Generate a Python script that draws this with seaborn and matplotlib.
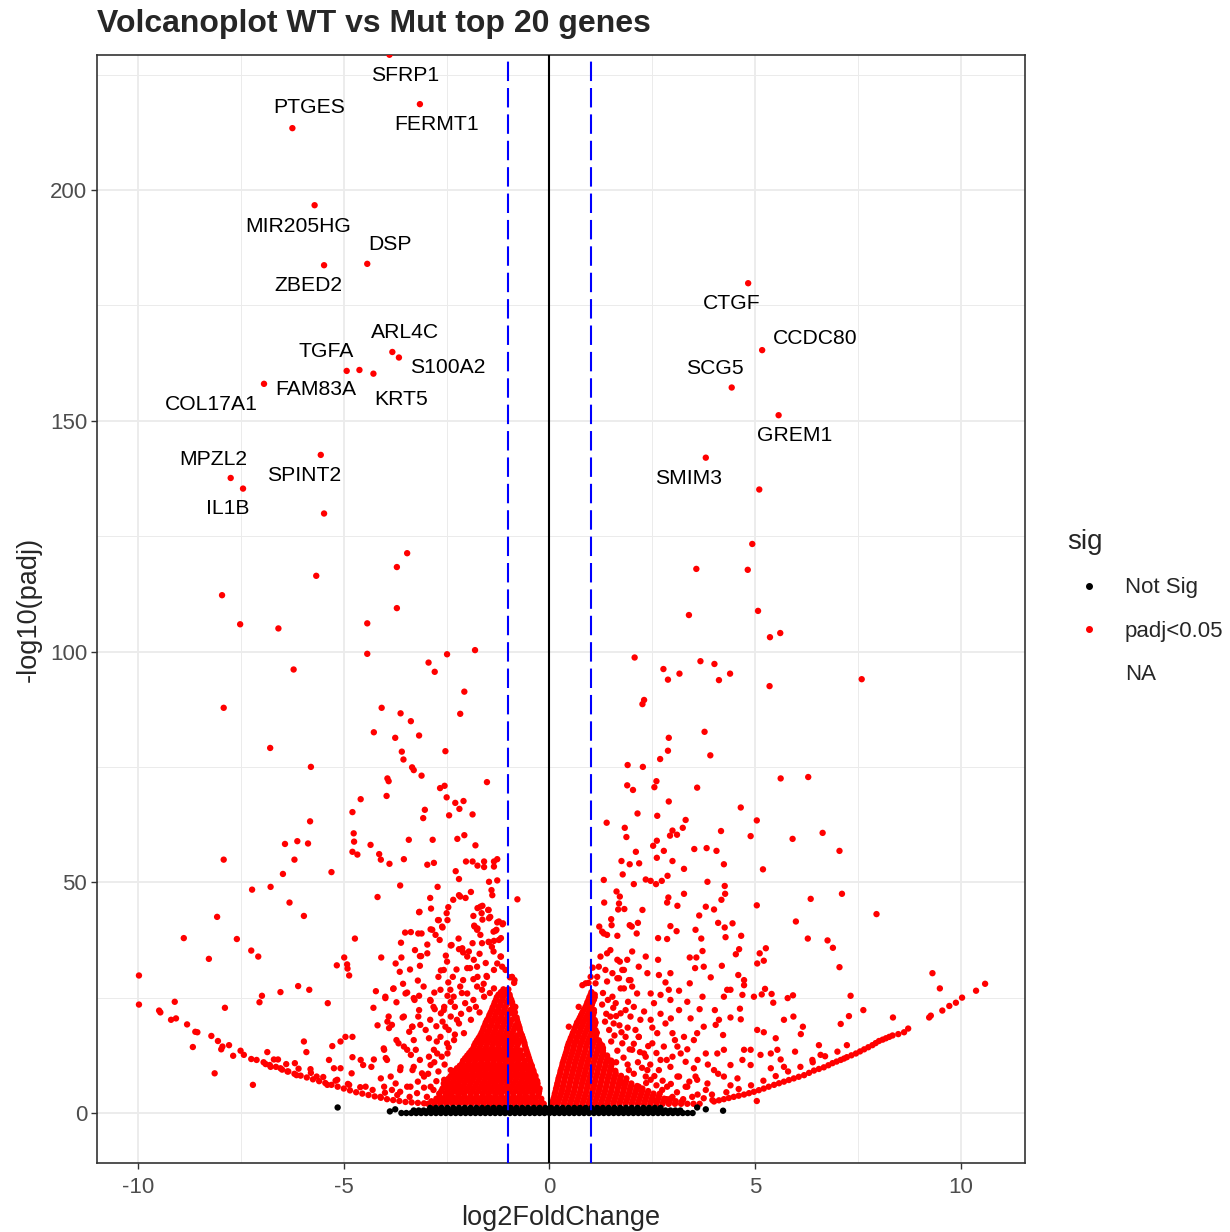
import matplotlib
matplotlib.use("Agg")
import matplotlib.pyplot as plt
import pandas as pd
import seaborn as sns
from matplotlib.lines import Line2D
from matplotlib.ticker import FixedLocator

sns.set_theme(style="white")
plt.rcParams["font.family"] = ["Liberation Sans", "DejaVu Sans"]
plt.rcParams["axes.unicode_minus"] = False
plt.rcParams["lines.scale_dashes"] = False

# ---------------------------------------------------------------- data
# top 20 genes: log2 fold change and -log10(padj)
TOP_GENES = ["SFRP1", "FERMT1", "PTGES", "MIR205HG", "DSP", "ZBED2", "ARL4C",
             "S100A2", "TGFA", "FAM83A", "KRT5", "COL17A1", "MPZL2", "IL1B",
             "SPINT2", "CTGF", "CCDC80", "SCG5", "GREM1", "SMIM3"]
TOP_LFC = [-3.89, -3.15, -6.25, -5.71, -4.43, -5.48, -3.82, -3.66, -4.93, -4.62,
           -4.28, -6.94, -7.75, -7.45, -5.56, 4.83, 5.17, 4.43, 5.57, 3.80]
TOP_NLP = [229.3, 218.6, 213.4, 196.7, 184.0, 183.7, 164.9, 163.7, 160.8, 161.0,
           160.2, 158.0, 137.6, 135.3, 142.6, 179.8, 165.3, 157.2, 151.2, 142.0]

# repelled label anchor points (data coordinates)
LABEL_X = [-3.50, -2.75, -5.84, -6.11, -3.87, -5.86, -3.50, -2.48, -5.43, -5.67,
           -3.60, -8.22, -8.18, -7.83, -5.96, 4.43, 6.47, 4.01, 5.96, 3.38]
LABEL_Y = [224.9, 214.1, 217.8, 192.0, 188.1, 179.2, 169.2, 161.6, 165.1, 156.7,
           154.5, 153.6, 141.7, 130.9, 138.2, 175.5, 167.9, 161.4, 146.7, 137.4]

# other significant down-regulated genes (lfc, -log10 padj)
DOWN_GENES = [
    (-5.48, 129.9), (-3.46, 121.3), (-3.71, 118.3), (-5.67, 116.4), (-7.96, 112.2),
    (-3.71, 109.4), (-7.52, 105.9), (-6.59, 105.0), (-4.43, 106.1), (-4.43, 99.5),
    (-2.49, 99.4), (-1.81, 100.3), (-2.94, 97.6), (-2.79, 95.6), (-6.22, 96.1),
    (-2.07, 91.3), (-7.92, 87.8), (-4.08, 87.8), (-3.62, 86.6), (-2.17, 86.5),
    (-3.37, 84.9), (-4.27, 82.5), (-3.75, 81.3), (-3.17, 81.8), (-6.79, 79.1),
    (-3.59, 78.3), (-2.53, 78.4), (-3.55, 76.6), (-5.80, 75.0), (-3.34, 74.9),
    (-3.30, 74.3), (-3.11, 73.1), (-3.94, 72.5), (-3.91, 71.9), (-1.52, 71.7),
    (-2.66, 70.4), (-2.55, 70.9), (-2.50, 68.4), (-4.59, 68.0), (-3.96, 68.7),
    (-2.29, 67.2), (-2.09, 67.6), (-2.19, 65.9), (-3.03, 65.7), (-4.79, 65.2),
    (-3.07, 63.9), (-2.44, 64.5), (-1.87, 64.7), (-5.82, 63.2), (-4.76, 60.6),
    (-2.07, 60.2),
    (-6.43, 58.3), (-6.13, 58.9), (-5.87, 58.4), (-4.75, 58.8), (-4.35, 58.1),
    (-4.79, 56.6), (-4.67, 56.0), (-3.42, 59.2), (-2.84, 59.2), (-2.24, 59.4),
    (-1.80, 58.0), (-7.92, 54.9), (-6.20, 54.9), (-4.14, 56.1), (-4.10, 54.9),
    (-3.89, 54.0), (-3.54, 55.0), (-2.97, 53.8), (-2.81, 54.2), (-2.03, 54.5),
    (-1.87, 54.5), (-1.75, 53.6), (-1.59, 54.5), (-1.59, 53.3), (-1.35, 54.5),
    (-1.27, 55.0), (-1.35, 53.4), (-6.48, 51.8), (-5.30, 52.2), (-2.28, 52.4),
    (-2.20, 50.7), (-1.47, 50.1), (-1.27, 50.4), (-3.63, 49.3), (-2.72, 49.0),
    (-7.23, 48.4), (-6.78, 49.0), (-4.18, 46.8), (-6.32, 45.6), (-1.91, 47.9),
    (-1.41, 48.3), (-1.39, 47.2), (-0.78, 46.3), (-2.90, 46.6), (-2.34, 46.2),
    (-2.20, 47.2), (-2.04, 46.6), (-2.88, 44.3), (-2.46, 44.6), (-2.50, 43.3),
    (-3.17, 43.5), (-1.75, 44.4), (-1.63, 44.9), (-1.49, 44.0), (-8.08, 42.5),
    (-5.97, 42.7), (-1.85, 42.7), (-1.63, 41.9), (-1.47, 42.2), (-2.48, 41.8),
    (-2.71, 41.8), (-1.27, 41.3), (-1.14, 40.9), (-1.83, 40.6), (-1.75, 40.0),
    (-2.60, 40.2), (-2.89, 39.8), (-3.51, 39.1), (-3.37, 39.2), (-3.19, 38.9),
    (-3.11, 38.9), (-2.77, 38.6), (-1.31, 39.5), (-1.18, 37.9), (-8.89, 37.9),
    (-7.60, 37.7), (-4.73, 37.8), (-2.21, 37.8), (-1.87, 36.8), (-1.47, 37.0),
    (-1.35, 37.3), (-3.61, 36.9), (-2.97, 36.5), (-2.40, 36.3), (-2.20, 35.5),
    (-3.27, 35.3), (-3.15, 34.0), (-2.97, 34.6), (-2.52, 34.1), (-2.10, 34.8),
    (-2.00, 33.9), (-1.36, 35.0), (-1.18, 33.9), (-7.25, 35.2), (-7.08, 33.9),
    (-8.28, 33.4), (-4.99, 33.7), (-4.09, 33.7), (-3.74, 32.4), (-3.60, 33.7),
    (-5.17, 32.0), (-4.92, 32.2), (-4.87, 29.8), (-4.91, 31.3), (-3.64, 30.6),
    (-3.39, 31.1), (-3.15, 31.9), (-2.64, 30.9), (-2.26, 31.1), (-1.93, 31.4),
    (-1.75, 29.5), (-1.53, 29.7), (-1.35, 31.0), (-0.96, 29.4), (-0.86, 28.2),
    (-9.98, 29.8), (-2.70, 29.5), (-3.20, 28.7), (-3.56, 28.0), (-2.46, 28.3),
    (-6.11, 27.5), (-5.84, 26.7), (-6.54, 26.2), (-6.99, 25.4), (-7.05, 24.0),
    (-4.22, 26.4), (-3.80, 26.9), (-3.46, 26.1), (-3.17, 25.4), (-2.80, 26.1),
    (-2.48, 25.4), (-2.13, 26.0), (-3.99, 24.9), (-3.72, 24.0), (-3.28, 24.5),
    (-2.89, 24.3), (-2.40, 24.1), (-9.98, 23.5), (-9.11, 24.1), (-5.39, 23.8),
    (-9.49, 22.2), (-9.46, 21.8), (-7.89, 22.8), (-4.28, 22.8), (-9.08, 20.5),
    (-9.20, 20.2), (-8.81, 19.2), (-8.61, 17.6), (-8.56, 17.5), (-8.22, 16.7),
    (-8.06, 15.6), (-7.95, 14.4), (-7.98, 13.8), (-7.79, 14.7), (-8.67, 14.3),
    (-7.69, 12.4), (-8.14, 8.6), (-7.21, 6.1), (-7.51, 13.5), (-7.43, 12.6),
    (-7.25, 11.7), (-7.12, 11.5), (-6.86, 13.2), (-6.90, 10.6), (-6.78, 10.0),
    (-6.60, 11.6), (-6.54, 9.7), (-6.37, 9.0), (-6.19, 10.8), (-6.15, 8.2),
    (-5.97, 15.5), (-5.91, 13.2), (-5.81, 9.5), (-5.66, 7.9), (-5.40, 6.1),
    (-5.36, 11.5), (-5.28, 14.5), (-5.24, 9.7), (-5.08, 15.5), (-4.96, 16.5),
    (-4.79, 16.5), (-5.08, 9.7), (-5.16, 7.2), (-4.79, 12.1), (-4.81, 8.6),
    (-4.59, 11.5), (-4.53, 10.4), (-4.87, 6.1), (-4.47, 5.7), (-4.27, 11.6),
    (-4.33, 10.0), (-4.02, 13.7), (-3.98, 11.9), (-4.10, 7.5), (-4.02, 5.7),
    (-3.86, 7.9), (-3.74, 6.4), (-3.94, 19.8), (-3.90, 18.4), (-4.18, 19.0),
    (-3.72, 15.8), (-3.57, 20.7), (-3.41, 17.6), (-3.33, 18.7), (-3.19, 20.9),
    (-3.17, 22.3), (-2.90, 20.2), (-3.01, 18.0), (-2.93, 16.2), (-2.74, 15.5),
    (-2.56, 23.0), (-2.64, 21.6), (-2.79, 22.5), (-3.54, 14.4), (-3.37, 12.6),
    (-3.25, 13.7), (-3.62, 9.9), (-3.33, 9.3), (-3.15, 11.5), (-3.05, 7.9),
    (-2.89, 10.4), (-3.46, 5.7), (-2.73, 12.9), (-2.48, 12.9), (-2.32, 15.8),
    (-2.08, 17.3), (-2.20, 19.4), (-2.40, 20.9), (-1.91, 20.2), (-1.79, 23.0),
    (-1.59, 25.2), (-1.35, 27.0), (-2.40, 9.3), (-2.56, 7.2), (-2.04, 8.2),
    (-2.89, 5.7), (-2.24, 5.7),
    (-2.17, 46.9), (-1.68, 44.7), (-1.65, 43.3), (-1.48, 44.0), (-1.44, 42.5),
    (-1.23, 41.5), (-1.13, 41.1), (-3.16, 43.6), (-2.69, 41.8), (-2.61, 40.4),
    (-2.85, 39.7), (-2.67, 37.5), (-1.82, 40.4), (-1.76, 39.7), (-1.68, 38.6),
    (-1.36, 39.3), (-1.29, 39.7), (-1.23, 37.5), (-1.48, 37.1), (-1.64, 36.8),
    (-2.12, 35.7), (-1.96, 35.0), (-2.38, 36.4), (-3.12, 34.0), (-2.49, 32.8),
    (-2.00, 31.4), (-2.57, 31.0), (-1.84, 33.2), (-1.76, 31.7), (-1.52, 29.5),
    (-1.27, 32.4), (-1.19, 33.9), (-1.15, 31.7), (-1.07, 31.0), (-0.91, 29.5),
    (-0.85, 28.8), (-0.83, 23.0), (-3.99, 25.2), (-3.79, 27.0), (-3.50, 25.9),
    (-3.30, 24.9), (-3.06, 27.4), (-2.90, 24.5), (-2.65, 26.7), (-2.82, 23.0),
    (-2.57, 22.3), (-2.41, 26.7), (-2.33, 25.2), (-2.17, 27.4), (-2.00, 25.9),
    (-1.76, 27.4), (-1.64, 26.7), (-3.91, 20.9), (-3.83, 19.1), (-3.54, 20.9),
    (-3.34, 18.7), (-3.14, 19.1), (-4.03, 14.0), (-3.95, 11.5), (-3.67, 15.1),
    (-3.46, 13.7), (-3.30, 15.8), (-3.63, 9.3), (-3.30, 10.0), (-3.10, 8.6),
    (-2.93, 12.2), (-2.81, 13.7), (-2.65, 16.5), (-2.49, 15.1), (-2.53, 18.7),
    (-2.25, 20.2), (-3.83, 5.0), (-3.63, 4.6), (-3.38, 5.7), (-3.22, 4.3),
    (-2.98, 3.5), (-2.82, 5.0), (-4.11, 3.5), (-2.57, 6.4), (-2.49, 3.5),
    (-1.95, 22.5), (-2.15, 21.5), (-1.70, 21.8), (-1.85, 24.5), (-2.05, 23.8),
    (-2.30, 23.0), (-2.45, 18.0), (-2.30, 17.0), (-2.60, 19.8), (-2.75, 18.8),
    (-2.45, 14.2), (-2.62, 12.2), (-2.80, 11.0), (-2.55, 10.5), (-2.70, 9.0),
    (-2.95, 8.5), (-3.20, 6.8), (-3.05, 5.5), (-2.75, 6.9), (-1.60, 28.0),
    (-1.45, 26.0), (-1.85, 29.0), (-2.10, 28.8), (-2.35, 29.5), (-1.55, 32.5),
    (-1.70, 34.5), (-1.40, 36.0),
    (-6.95, 11.0), (-6.80, 10.4), (-6.65, 10.0), (-6.50, 9.4), (-6.35, 9.0),
    (-6.20, 8.5), (-6.05, 8.1), (-5.90, 7.7), (-5.75, 7.3), (-5.60, 6.9),
    (-5.45, 6.5), (-5.30, 6.1), (-5.15, 5.7), (-5.00, 5.3), (-4.85, 4.9),
    (-4.70, 4.5), (-4.55, 4.2), (-4.40, 3.9), (-4.25, 3.6), (-4.10, 3.3),
    (-3.95, 3.0), (-3.80, 2.8), (-3.65, 2.6), (-3.50, 2.4), (-3.35, 2.3),
    (-3.20, 2.2), (-3.05, 2.1), (-6.70, 11.6), (-6.40, 10.6), (-6.10, 9.6),
    (-5.80, 8.7), (-5.50, 7.8), (-5.20, 7.0), (-4.90, 6.3), (-4.60, 5.6),
    (-4.30, 5.0), (-4.00, 4.4), (-3.70, 3.9), (-3.40, 3.5),
]

# other significant up-regulated genes (lfc, -log10 padj)
UP_GENES = [
    (5.10, 135.1), (4.93, 123.3), (3.57, 117.9), (4.82, 117.7), (3.39, 107.9),
    (5.07, 108.8), (5.36, 103.1), (5.61, 104.0), (2.07, 98.7), (3.67, 97.9),
    (4.01, 97.3), (2.77, 96.2), (3.16, 95.2), (2.88, 93.9), (4.12, 93.8),
    (4.39, 95.2), (5.35, 92.5), (7.59, 94.0), (2.30, 89.5), (2.26, 88.6),
    (3.77, 82.6), (2.90, 81.3), (2.88, 78.5), (3.91, 77.5), (2.69, 76.7),
    (1.90, 75.4), (2.27, 75.0), (5.62, 72.5), (6.29, 72.8), (1.89, 71.0),
    (2.03, 70.0), (2.60, 71.9), (2.55, 70.6), (3.59, 70.5), (2.90, 67.5),
    (4.65, 66.2), (2.14, 64.9), (2.62, 64.4), (1.39, 62.9), (1.83, 61.8),
    (3.31, 63.5), (3.24, 61.8), (2.99, 61.2), (2.93, 60.1), (3.10, 60.3),
    (4.17, 61.1), (5.04, 63.4), (4.89, 60.0), (1.87, 59.8), (6.64, 60.7),
    (5.91, 59.4),
    (2.10, 56.6), (2.61, 59.0), (2.52, 57.9), (2.78, 56.8), (3.52, 57.2),
    (3.82, 57.4), (4.06, 56.8), (7.05, 56.8), (1.75, 54.6), (1.95, 53.9),
    (2.18, 54.1), (2.61, 55.3), (2.99, 54.6), (4.24, 53.9), (5.19, 52.8),
    (3.27, 52.9), (1.78, 51.7), (1.32, 50.5), (2.05, 49.6), (2.34, 50.6),
    (2.46, 50.3), (2.59, 49.6), (2.73, 50.3), (2.87, 51.4), (3.84, 50.1),
    (4.26, 49.2), (1.33, 45.6), (1.63, 48.0), (1.71, 46.9), (1.69, 45.4),
    (1.82, 44.2), (1.67, 44.1), (2.26, 44.0), (2.86, 45.6), (2.89, 46.7),
    (3.11, 44.9), (3.27, 47.5), (3.80, 44.7), (4.00, 44.1), (4.18, 46.2),
    (4.27, 47.5), (5.04, 45.0), (6.35, 46.4), (7.11, 47.5), (7.95, 43.1),
    (1.50, 42.0), (1.51, 40.7), (1.95, 40.7), (2.15, 41.2), (3.64, 42.8),
    (4.10, 41.2), (4.26, 40.2), (4.45, 41.1), (5.99, 41.5), (1.21, 40.4),
    (1.28, 39.3), (1.40, 38.6), (1.65, 38.4), (2.00, 40.4), (2.12, 38.9),
    (2.94, 40.5), (3.09, 39.4), (2.64, 37.9), (2.86, 37.7), (3.55, 39.7),
    (3.69, 37.8), (4.28, 38.1), (4.66, 38.4), (6.28, 37.8), (6.76, 37.4),
    (6.89, 35.8), (7.05, 31.6), (9.31, 30.3), (9.49, 27.0), (10.59, 28.0),
    (10.37, 26.5), (10.03, 25.0), (9.88, 23.9), (9.72, 23.2), (9.55, 22.2),
    (9.27, 21.1), (9.23, 20.7), (8.72, 18.3), (8.62, 17.5), (8.34, 16.8),
    (8.18, 16.2), (8.01, 15.6), (7.85, 14.7), (7.65, 13.8), (7.45, 12.9),
    (7.23, 12.1), (7.08, 11.5), (6.88, 10.8), (6.67, 9.9), (6.43, 9.2),
    (6.19, 8.2), (5.94, 7.5), (5.70, 6.8), (5.46, 6.1), (5.21, 5.3),
    (4.97, 4.6), (4.73, 4.0), (4.48, 3.5), (4.24, 3.0), (4.00, 2.5),
    (5.04, 2.6), (8.35, 20.7), (7.63, 22.3), (7.28, 21.0), (7.32, 25.4),
    (7.08, 19.3), (7.23, 14.7), (6.55, 14.7), (6.16, 18.7), (6.11, 17.1),
    (5.93, 20.9), (5.70, 20.2), (5.92, 25.5), (5.79, 24.9), (5.97, 13.3),
    (6.39, 11.5), (6.59, 12.6), (5.62, 11.6), (5.40, 25.8), (5.44, 23.9),
    (5.16, 25.7), (5.24, 26.9), (4.97, 25.2), (5.05, 18.0), (5.21, 17.5),
    (5.50, 16.2), (5.54, 13.7), (5.38, 12.9), (5.13, 12.6), (4.89, 13.7),
    (4.65, 20.3), (4.63, 22.6), (4.40, 20.7), (4.32, 26.7), (4.69, 25.6),
    (4.59, 29.9), (4.73, 28.8), (4.73, 27.7), (4.19, 31.9), (5.05, 32.4),
    (5.11, 34.6), (5.26, 35.7), (5.21, 33.0), (4.53, 34.4), (4.61, 35.5),
    (3.41, 33.7), (3.57, 33.7), (3.72, 35.1), (3.54, 31.4), (3.75, 31.7),
    (3.92, 29.4), (4.24, 25.2), (4.40, 26.7), (4.02, 22.3), (4.12, 20.2),
    (4.22, 16.9), (4.04, 19.1), (3.75, 18.7), (3.65, 22.5), (3.43, 20.5),
    (3.35, 24.1), (3.41, 28.1), (3.72, 25.2), (3.59, 17.3), (3.51, 15.8),
    (3.80, 12.9), (4.08, 12.9), (4.24, 13.7), (4.40, 10.4), (4.73, 13.7),
    (4.69, 11.5), (4.57, 7.5), (4.89, 10.4), (5.38, 9.7), (5.70, 10.0),
    (4.00, 9.3), (4.24, 7.9), (3.84, 6.4), (3.59, 7.2), (3.51, 9.7),
    (3.31, 11.1), (3.19, 12.9), (3.11, 14.4), (3.27, 16.5), (2.99, 17.3),
    (2.82, 19.4), (3.15, 22.3), (2.94, 24.5), (2.70, 25.6), (2.90, 26.7),
    (3.15, 26.5), (2.66, 29.9), (2.82, 28.3), (2.94, 30.3), (2.64, 33.2),
    (2.34, 33.9), (2.38, 30.3), (2.46, 25.9), (2.54, 23.8), (2.46, 20.2),
    (2.62, 17.3), (2.78, 14.4), (2.70, 11.5), (2.94, 10.0), (3.11, 7.9),
    (3.35, 5.7), (2.86, 5.7), (2.46, 7.2), (2.38, 9.3), (2.30, 12.9),
    (2.17, 16.5), (2.21, 20.2), (2.05, 23.0), (2.13, 25.9), (1.97, 28.8),
    (2.17, 31.7), (1.89, 33.2), (2.01, 35.0), (1.71, 32.8), (1.81, 31.0),
    (1.69, 29.2), (1.81, 27.0), (1.91, 24.1), (1.73, 21.6),
    (1.32, 38.9), (1.40, 34.6), (1.48, 35.3), (1.24, 33.9), (1.20, 31.7),
    (1.36, 31.0), (1.53, 30.3), (1.16, 29.5), (1.12, 28.1), (0.80, 27.7),
    (0.88, 28.1), (0.71, 23.0), (0.47, 18.7), (0.80, 19.4), (1.65, 33.2),
    (1.77, 31.0), (1.93, 28.8), (2.01, 27.4), (1.65, 29.2), (1.73, 27.0),
    (1.53, 25.2), (1.61, 23.8), (1.85, 22.3), (1.97, 20.9), (1.48, 20.9),
    (1.56, 19.4), (2.09, 18.0), (2.17, 16.5), (1.85, 16.5), (1.77, 15.1),
    (2.01, 13.7), (2.34, 12.2), (2.50, 15.1), (2.66, 9.3), (2.99, 12.2),
    (3.15, 7.9), (2.34, 7.9), (2.17, 5.7), (1.93, 9.3), (1.77, 6.4),
    (2.74, 5.0), (3.31, 5.7), (3.55, 7.9), (3.80, 5.0), (3.47, 3.5),
    (3.96, 2.8), (2.99, 3.5), (2.50, 2.8), (1.00, 29.5), (1.05, 31.5),
    (0.95, 28.2),
    (1.30, 26.0), (1.42, 24.5), (1.55, 22.8), (1.38, 21.5), (1.62, 21.0),
    (1.70, 19.0), (1.45, 18.0), (1.58, 16.8), (1.90, 18.5), (1.75, 17.5),
    (2.05, 15.0), (1.95, 13.8), (1.65, 13.5), (1.80, 12.0), (2.15, 11.0),
    (2.45, 10.5), (2.25, 9.8), (2.05, 8.5), (2.55, 8.0), (2.75, 7.0),
    (2.60, 6.0), (2.35, 6.5), (2.95, 6.3), (3.10, 4.5), (2.85, 3.0),
    (3.25, 3.0), (3.60, 4.0), (3.75, 3.2), (3.40, 6.8), (1.40, 28.5),
    (1.28, 23.5), (1.35, 19.8), (1.50, 15.5), (1.62, 11.0), (1.90, 10.5),
    (2.20, 13.2), (2.40, 14.5), (2.60, 13.0), (2.85, 11.5), (2.50, 18.5),
    (2.30, 22.0), (2.70, 21.5), (2.95, 20.5), (3.05, 15.8), (3.35, 13.8),
    (3.60, 11.5), (3.85, 10.5), (4.10, 8.5), (4.40, 6.0), (3.95, 4.0),
    (4.12, 2.75), (4.36, 3.25), (4.60, 3.75), (4.85, 4.3), (5.09, 4.95),
    (5.33, 5.7), (5.58, 6.45), (5.82, 7.15), (6.06, 7.85), (6.31, 8.7),
    (6.55, 9.55), (6.78, 10.35), (6.98, 11.15), (7.16, 11.8), (7.34, 12.5),
    (7.55, 13.35), (7.75, 14.25), (7.93, 15.15), (8.10, 15.9), (8.26, 16.5),
    (8.48, 17.1), (5.50, 8.0), (5.80, 9.0), (6.10, 10.0), (6.40, 11.0),
    (6.70, 12.3), (7.00, 13.3), (5.20, 7.0), (4.90, 6.0), (4.60, 5.2),
    (4.30, 4.5),
]

# densely packed significant genes close to the fold-change threshold,
# grouped by -log10(padj) level
DOWN_CORE = {
    2.0: [-2.95, -2.8, -2.65, -2.5, -2.35, -2.2, -2.05, -1.9, -1.75, -1.6, -1.45,
          -1.3, -1.15, -1.0, -0.85, -0.7, -0.55, -0.4, -0.27, -0.14],
    2.55: [-2.87, -2.72, -2.57, -2.42, -2.27, -2.12, -1.97, -1.82, -1.67, -1.52,
           -1.37, -1.22, -1.07, -0.92, -0.77, -0.62, -0.47, -0.33, -0.2],
    3.1: [-2.75, -2.6, -2.45, -2.3, -2.15, -2.0, -1.85, -1.7, -1.55, -1.4, -1.25,
          -1.1, -0.95, -0.8, -0.65, -0.5, -0.35, -0.2],
    3.65: [-2.67, -2.52, -2.37, -2.22, -2.07, -1.92, -1.77, -1.62, -1.47, -1.32,
           -1.17, -1.02, -0.87, -0.72, -0.57, -0.42, -0.28],
    4.2: [-2.68, -2.52, -2.38, -2.22, -2.08, -1.92, -1.78, -1.62, -1.48, -1.32,
          -1.18, -1.02, -0.88, -0.72, -0.58, -0.42, -0.26],
    4.75: [-2.63, -2.48, -2.33, -2.18, -2.03, -1.88, -1.73, -1.58, -1.43, -1.28,
           -1.13, -0.98, -0.83, -0.68, -0.53, -0.38, -0.25],
    5.3: [-2.6, -2.45, -2.3, -2.15, -2.0, -1.85, -1.7, -1.55, -1.4, -1.25, -1.1,
          -0.95, -0.8, -0.65, -0.5, -0.35, -0.24],
    5.85: [-2.55, -2.4, -2.25, -2.1, -1.95, -1.8, -1.65, -1.5, -1.35, -1.2, -1.05,
           -0.9, -0.75, -0.6, -0.45, -0.3],
    6.4: [-2.52, -2.37, -2.22, -2.07, -1.92, -1.77, -1.62, -1.47, -1.32, -1.17,
          -1.02, -0.87, -0.72, -0.57, -0.42, -0.29],
    6.95: [-2.48, -2.33, -2.18, -2.03, -1.88, -1.73, -1.58, -1.43, -1.28, -1.13,
           -0.98, -0.83, -0.68, -0.53, -0.4, -0.3],
    7.5: [-2.45, -2.3, -2.15, -2.0, -1.85, -1.7, -1.55, -1.4, -1.25, -1.1, -0.95,
          -0.8, -0.65, -0.5, -0.34],
    8.05: [-2.4, -2.25, -2.1, -1.95, -1.8, -1.65, -1.5, -1.35, -1.2, -1.05, -0.9,
           -0.75, -0.6, -0.46, -0.34],
    8.6: [-2.33, -2.18, -2.03, -1.88, -1.73, -1.58, -1.43, -1.28, -1.13, -0.98,
          -0.83, -0.68, -0.53, -0.38],
    9.15: [-2.3, -2.15, -2.0, -1.85, -1.7, -1.55, -1.4, -1.25, -1.1, -0.95, -0.8,
           -0.65, -0.5, -0.39],
    9.7: [-2.25, -2.1, -1.95, -1.8, -1.65, -1.5, -1.35, -1.2, -1.05, -0.9, -0.75,
          -0.6, -0.42],
    10.25: [-2.18, -2.03, -1.88, -1.73, -1.58, -1.43, -1.28, -1.13, -0.98, -0.83,
            -0.68, -0.54, -0.43],
    10.8: [-2.12, -1.97, -1.82, -1.67, -1.52, -1.37, -1.22, -1.07, -0.92, -0.77,
           -0.62, -0.46],
    11.35: [-2.1, -1.95, -1.8, -1.65, -1.5, -1.35, -1.2, -1.05, -0.9, -0.76, -0.6,
            -0.48],
    11.9: [-2.05, -1.9, -1.75, -1.6, -1.45, -1.3, -1.15, -1.0, -0.85, -0.7, -0.5],
    12.45: [-2.0, -1.85, -1.7, -1.55, -1.4, -1.25, -1.1, -0.95, -0.8, -0.65, -0.52],
    13.0: [-1.95, -1.8, -1.65, -1.5, -1.35, -1.2, -1.05, -0.9, -0.75, -0.54],
    13.55: [-1.9, -1.75, -1.6, -1.45, -1.3, -1.15, -1.0, -0.85, -0.7, -0.56],
    14.1: [-1.85, -1.7, -1.55, -1.4, -1.25, -1.1, -0.95, -0.8, -0.58],
    14.65: [-1.83, -1.68, -1.53, -1.38, -1.23, -1.08, -0.93, -0.78, -0.6],
    15.2: [-1.8, -1.65, -1.5, -1.35, -1.2, -1.05, -0.9, -0.75, -0.61],
    15.75: [-1.76, -1.61, -1.46, -1.31, -1.16, -1.01, -0.86, -0.72, -0.63],
    16.3: [-1.72, -1.57, -1.42, -1.27, -1.12, -0.97, -0.82, -0.65],
    16.85: [-1.68, -1.53, -1.38, -1.23, -1.08, -0.93, -0.78, -0.67],
    17.4: [-1.65, -1.5, -1.35, -1.2, -1.05, -0.9, -0.7],
    17.95: [-1.62, -1.47, -1.32, -1.17, -1.02, -0.87, -0.72],
    18.5: [-1.6, -1.45, -1.3, -1.15, -1.0, -0.85, -0.73],
    19.05: [-1.57, -1.42, -1.27, -1.12, -0.97, -0.82, -0.75],
    19.6: [-1.55, -1.4, -1.25, -1.1, -0.95, -0.77],
    20.15: [-1.52, -1.37, -1.22, -1.07, -0.92, -0.79],
    20.7: [-1.48, -1.33, -1.18, -1.03, -0.8],
    21.25: [-1.46, -1.31, -1.16, -1.01, -0.86],
    21.8: [-1.43, -1.28, -1.13, -0.98, -0.84],
    22.35: [-1.4, -1.25, -1.1, -0.95, -0.86],
    22.9: [-1.38, -1.23, -1.08, -0.88],
    23.45: [-1.35, -1.2, -1.05, -0.9],
    24.0: [-1.33, -1.18, -1.03, -0.91],
    24.55: [-1.3, -1.15, -1.0, -0.93],
    25.1: [-1.28, -1.13, -0.96],
    25.65: [-1.24, -1.09, -0.97],
    26.2: [-1.18, -1.02],
    26.8: [-1.12, -1.0],
}
UP_CORE = {
    2.0: [0.06, 0.2, 0.35, 0.5, 0.65, 0.8, 0.95, 1.1, 1.25, 1.4, 1.55, 1.7, 1.85,
          2.0, 2.15, 2.3, 2.45, 2.6, 2.75, 2.9, 3.05, 3.2, 3.35, 3.5, 3.65],
    2.55: [0.08, 0.22, 0.37, 0.52, 0.67, 0.82, 0.97, 1.12, 1.27, 1.42, 1.57, 1.72,
           1.87, 2.02, 2.17, 2.32, 2.47, 2.62, 2.77, 2.92, 3.07, 3.22],
    3.1: [0.1, 0.24, 0.39, 0.54, 0.69, 0.84, 0.99, 1.14, 1.29, 1.44, 1.59, 1.74,
          1.89, 2.04, 2.19, 2.34, 2.49, 2.64, 2.79, 2.94],
    3.65: [0.12, 0.26, 0.41, 0.56, 0.71, 0.86, 1.01, 1.16, 1.31, 1.46, 1.61, 1.76,
           1.91, 2.06, 2.21, 2.36, 2.51, 2.66],
    4.2: [0.13, 0.28, 0.43, 0.58, 0.73, 0.88, 1.03, 1.18, 1.33, 1.48, 1.63, 1.78,
          1.93, 2.08, 2.23, 2.38, 2.53, 2.68],
    4.75: [0.15, 0.3, 0.45, 0.6, 0.75, 0.9, 1.05, 1.2, 1.35, 1.5, 1.65, 1.8, 1.95,
           2.1, 2.25, 2.4],
    5.3: [0.16, 0.31, 0.46, 0.61, 0.76, 0.91, 1.06, 1.21, 1.36, 1.51, 1.66, 1.81,
          1.96, 2.11, 2.26],
    5.85: [0.18, 0.33, 0.48, 0.63, 0.78, 0.93, 1.08, 1.23, 1.38, 1.53, 1.68, 1.83,
           1.98, 2.13],
    6.4: [0.19, 0.34, 0.49, 0.64, 0.79, 0.94, 1.09, 1.24, 1.39, 1.54, 1.69, 1.84,
          1.99],
    6.95: [0.21, 0.36, 0.51, 0.66, 0.81, 0.96, 1.11, 1.26, 1.41, 1.56, 1.71, 1.86],
    7.5: [0.22, 0.37, 0.52, 0.67, 0.82, 0.97, 1.12, 1.27, 1.42, 1.57, 1.72, 1.87],
    8.05: [0.24, 0.39, 0.54, 0.69, 0.84, 0.99, 1.14, 1.29, 1.44, 1.59, 1.74],
    8.6: [0.26, 0.41, 0.56, 0.71, 0.86, 1.01, 1.16, 1.31, 1.46, 1.61],
    9.15: [0.27, 0.42, 0.57, 0.72, 0.87, 1.02, 1.17, 1.32, 1.47, 1.6],
    9.7: [0.29, 0.44, 0.59, 0.74, 0.89, 1.04, 1.19, 1.34, 1.49],
    10.25: [0.31, 0.46, 0.61, 0.76, 0.91, 1.06, 1.21, 1.36, 1.5],
    10.8: [0.32, 0.47, 0.62, 0.77, 0.92, 1.07, 1.22, 1.37, 1.52],
    11.35: [0.34, 0.49, 0.64, 0.79, 0.94, 1.09, 1.24, 1.39, 1.5],
    11.9: [0.36, 0.51, 0.66, 0.81, 0.96, 1.11, 1.26, 1.41],
    12.45: [0.38, 0.53, 0.68, 0.83, 0.98, 1.13, 1.28, 1.4],
    13.0: [0.4, 0.55, 0.7, 0.85, 1.0, 1.15, 1.3],
    13.55: [0.42, 0.57, 0.72, 0.87, 1.02, 1.17, 1.3],
    14.1: [0.43, 0.58, 0.73, 0.88, 1.03, 1.18, 1.3],
    14.65: [0.45, 0.6, 0.75, 0.9, 1.05, 1.2, 1.28],
    15.2: [0.47, 0.62, 0.77, 0.92, 1.07, 1.22],
    15.75: [0.5, 0.65, 0.8, 0.95, 1.1, 1.2],
    16.3: [0.52, 0.67, 0.82, 0.97, 1.12],
    16.85: [0.55, 0.7, 0.85, 1.0, 1.13],
    17.4: [0.57, 0.72, 0.87, 1.02, 1.15],
    17.95: [0.6, 0.75, 0.9, 1.05, 1.12],
    18.5: [0.62, 0.77, 0.92, 1.07],
    19.05: [0.65, 0.8, 0.95, 1.1],
    19.6: [0.67, 0.82, 0.97, 1.12],
    20.15: [0.71, 0.86, 1.01, 1.1],
    20.7: [0.74, 0.89, 1.04],
    21.25: [0.77, 0.92, 1.06],
    21.8: [0.8, 0.95, 1.08],
    22.35: [0.83, 0.98, 1.08],
    22.9: [0.87, 1.0],
    23.45: [0.9, 1.03],
    24.0: [0.92, 1.05],
    24.55: [0.95, 1.08],
    25.1: [0.97, 1.1],
    25.65: [1.0, 1.1],
    26.2: [1.02],
}

# genes that do not pass padj < 0.05
NOT_SIG = {
    0.0: [-3.6, -3.48, -3.36, -3.24, -3.12, -3.0, -2.88, -2.76, -2.64, -2.52,
          -2.4, -2.28, -2.16, -2.04, -1.92, -1.8, -1.68, -1.56, -1.44, -1.32,
          -1.2, -1.08, -0.96, -0.84, -0.72, -0.6, -0.48, -0.36, -0.24, -0.12,
          0.0, 0.12, 0.24, 0.36, 0.48, 0.6, 0.72, 0.84, 0.96, 1.08, 1.2, 1.32,
          1.44, 1.56, 1.68, 1.8, 1.92, 2.04, 2.16, 2.28, 2.4, 2.52, 2.64, 2.76,
          2.88, 3.0, 3.12, 3.24, 3.36, 3.48],
    0.55: [-3.3, -3.18, -3.06, -2.94, -2.82, -2.7, -2.58, -2.46, -2.34, -2.22,
           -2.1, -1.98, -1.86, -1.74, -1.62, -1.5, -1.38, -1.26, -1.14, -1.02,
           -0.9, -0.78, -0.66, -0.54, -0.42, -0.3, -0.18, -0.06, 0.06, 0.18, 0.3,
           0.42, 0.54, 0.66, 0.78, 0.9, 1.02, 1.14, 1.26, 1.38, 1.5, 1.62, 1.74,
           1.86, 1.98, 2.1, 2.22, 2.34, 2.46, 2.58, 2.7, 2.82, 2.94, 3.06, 3.18],
    1.1: [-2.9, -2.76, -2.62, -2.48, -2.34, -2.2, -2.06, -1.92, -1.78, -1.64,
          -1.5, -1.36, -1.22, -1.08, -0.94, -0.8, -0.66, -0.52, -0.38, -0.24,
          -0.1, 0.04, 0.18, 0.32, 0.46, 0.6, 0.74, 0.88, 1.02, 1.16, 1.3, 1.44,
          1.58, 1.72, 1.86, 2.0, 2.14, 2.28, 2.42, 2.56, 2.7],
}
NOT_SIG_EXTRA = [(-5.15, 1.2), (-3.88, 0.35), (-3.75, 0.8), (3.59, 1.2),
                 (3.80, 0.8), (4.22, 0.5)]

FC_CUTOFF = 1.0

# ---------------------------------------------------------------- table
records = []
for x, y in zip(TOP_LFC, TOP_NLP):
    records.append((x, y, "padj<0.05"))
for x, y in DOWN_GENES + UP_GENES:
    records.append((x, y, "padj<0.05"))
for core in (DOWN_CORE, UP_CORE):
    for y, xs in core.items():
        records.extend((x, y, "padj<0.05") for x in xs)
for y, xs in NOT_SIG.items():
    records.extend((x, y, "Not Sig") for x in xs)
for x, y in NOT_SIG_EXTRA:
    records.append((x, y, "Not Sig"))
res = pd.DataFrame(records, columns=["log2FoldChange", "nlp", "sig"])

# ---------------------------------------------------------------- figure
W, H = 1230, 1232
fig = plt.figure(figsize=(W / 100, H / 100), dpi=100)
ax = fig.add_axes([97 / W, 1 - 1163 / H, (1025 - 97) / W, (1163 - 55) / H])

sns.scatterplot(data=res, x="log2FoldChange", y="nlp", hue="sig",
                palette={"padj<0.05": "#FF0000", "Not Sig": "#000000"},
                s=21, linewidth=0, legend=False, ax=ax, zorder=3)

ax.axvline(0, color="black", lw=1.5, zorder=4)
for v in (-FC_CUTOFF, FC_CUTOFF):
    ax.axvline(v, color="#0000FF", lw=1.5, linestyle=(0, (14, 5)), zorder=4)

for gene, lx, ly in zip(TOP_GENES, LABEL_X, LABEL_Y):
    ax.text(lx, ly, gene, ha="center", va="center", fontsize=15.2,
            color="black", zorder=5)

ax.set_xlim(-11.0, 11.56)
ax.set_ylim(-10.83, 229.25)
ax.set_xticks([-10, -5, 0, 5, 10])
ax.set_xticklabels(["-10", "-5", "0", "5", "10"])
ax.set_yticks([0, 50, 100, 150, 200])
ax.xaxis.set_minor_locator(FixedLocator([-7.5, -2.5, 2.5, 7.5]))
ax.yaxis.set_minor_locator(FixedLocator([25, 75, 125, 175, 225]))
ax.set_axisbelow(True)
ax.grid(which="major", color="#EBEBEB", lw=1.3)
ax.grid(which="minor", color="#EBEBEB", lw=0.7)
ax.tick_params(which="major", length=4, width=1, color="#333333",
               labelsize=16, labelcolor="#4D4D4D", bottom=True, left=True)
ax.tick_params(axis="x", which="major", pad=6)
ax.tick_params(axis="y", which="major", pad=3)
ax.tick_params(which="minor", length=0)
for sp in ax.spines.values():
    sp.set_color("#333333")
    sp.set_linewidth(1.2)

ax.set_xlabel("log2FoldChange", fontsize=19.5, labelpad=5)
ax.set_ylabel("-log10(padj)", fontsize=19.5, labelpad=6)

fig.text(97 / W, 1 - 24 / H, "Volcanoplot WT vs Mut top 20 genes",
         ha="left", va="center", fontsize=23, fontweight="bold")

handles = [
    Line2D([], [], marker="o", linestyle="", color="#000000", markersize=4),
    Line2D([], [], marker="o", linestyle="", color="#FF0000", markersize=4),
    Line2D([], [], marker="o", linestyle="", color="none", markersize=4),
]
leg = ax.legend(handles, ["Not Sig", "padj<0.05", "NA"], title="sig",
                loc="center left", bbox_to_anchor=(1067 / W, 1 - 607 / H),
                bbox_transform=fig.transFigure, frameon=False, fontsize=16,
                title_fontsize=20, handlelength=2.0, handletextpad=0.6,
                labelspacing=1.0, borderpad=0, borderaxespad=0)
leg._legend_box.align = "left"

fig.savefig("out.png", dpi=100)
